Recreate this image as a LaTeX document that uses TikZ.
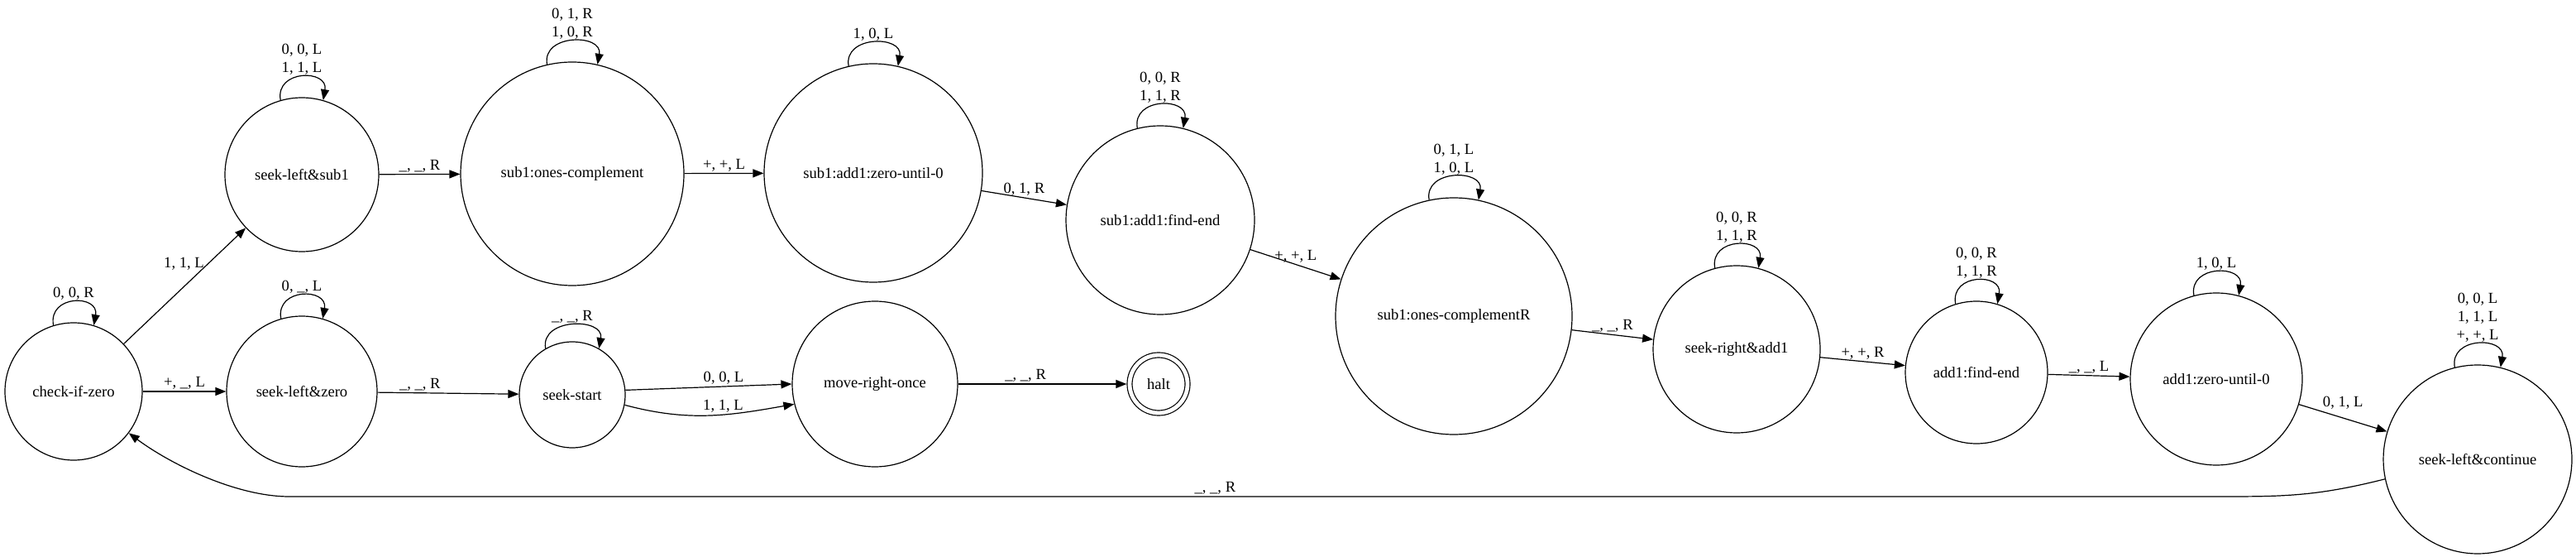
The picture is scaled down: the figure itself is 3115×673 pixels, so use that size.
\documentclass[tikz,border=0pt]{standalone}
\usepackage{fontspec}
\setmainfont{Liberation Serif}
\usetikzlibrary{arrows.meta}

\begin{document}
\begin{tikzpicture}[x=0.5pt, y=-0.5pt, line width=0.6pt,
    every node/.style={font=\fontsize{9.3}{11}\selectfont},
    state/.style={circle, draw, inner sep=0pt, minimum size=#1},
    arr/.style={-{Triangle[length=6.5pt, width=5pt]}},
    lbl/.style={above, inner sep=1pt, align=center},
    selfloop/.style={out=100, in=80, distance=19pt}]
    \useasboundingbox (0,0) rectangle (3115,673);

    % states
    \node[state=83pt] (ciz) at (89,473) {check-if-zero};
    \node[state=93pt] (sls) at (365,211) {seek-left\&sub1};
    \node[state=91pt] (slz) at (365,473) {seek-left\&zero};
    \node[state=135pt] (soc) at (692,210) {sub1:ones-complement};
    \node[state=132pt] (szu) at (1056,209) {sub1:add1:zero-until-0};
    \node[state=114pt] (sfe) at (1403,266) {sub1:add1:find-end};
    \node[state=143pt] (socr) at (1758,382) {sub1:ones-complementR};
    \node[state=101pt] (sra) at (2100,422) {seek-right\&add1};
    \node[state=86pt] (afe) at (2390,450) {add1:find-end};
    \node[state=104pt] (azu) at (2680,458) {add1:zero-until-0};
    \node[state=114pt] (slc) at (2996,555) {seek-left\&continue};
    \node[state=64pt] (ss) at (692,477) {seek-start};
    \node[state=100pt] (mro) at (1058,464) {move-right-once};
    \node[circle, draw, double, double distance=2.4pt, minimum size=35pt,
          inner sep=0pt, outer sep=1.8pt] (halt) at (1401,464) {halt};

    % loops
    \draw[arr] (ciz.107) to[selfloop] node[lbl] {0, 0, R} (ciz.73);
    \draw[arr] (sls.106) to[selfloop] node[lbl] {0, 0, L\\1, 1, L} (sls.74);
    \draw[arr] (slz.106) to[selfloop] node[lbl] {0, \_, L} (slz.74);
    \draw[arr] (soc.103) to[selfloop] node[lbl] {0, 1, R\\1, 0, R} (soc.77);
    \draw[arr] (szu.103) to[selfloop] node[lbl] {1, 0, L} (szu.77);
    \draw[arr] (sfe.104) to[selfloop] node[lbl] {0, 0, R\\1, 1, R} (sfe.76);
    \draw[arr] (socr.102) to[selfloop] node[lbl] {0, 1, L\\1, 0, L} (socr.78);
    \draw[arr] (sra.105) to[selfloop] node[lbl] {0, 0, R\\1, 1, R} (sra.75);
    \draw[arr] (afe.107) to[selfloop] node[lbl] {0, 0, R\\1, 1, R} (afe.73);
    \draw[arr] (azu.105) to[selfloop] node[lbl] {1, 0, L} (azu.75);
    \draw[arr] (slc.104) to[selfloop] node[lbl] {0, 0, L\\1, 1, L\\+, +, L} (slc.76);
    \draw[arr] (ss.120) to[selfloop] node[lbl] {\_, \_, R} (ss.60);

    % transitions
    \draw[arr] (ciz) -- node[left, pos=0.69, inner sep=2pt] {1, 1, L} (sls);
    \draw[arr] (ciz) -- node[lbl] {+, \_, L} (slz);
    \draw[arr] (slz) -- node[lbl, pos=0.3] {\_, \_, R} (ss);
    \draw[arr] (ss.5) -- node[lbl, pos=0.59] {0, 0, L} (mro.180);
    \draw[arr] (ss.-11) to[out=-15, in=190] node[lbl, pos=0.59] {1, 1, L} (mro.194);
    \draw[arr] (mro) -- node[lbl, pos=0.4] {\_, \_, R} (halt);
    \draw[arr] (sls) -- node[lbl] {\_, \_, R} (soc);
    \draw[arr] (soc) -- node[lbl] {+, +, L} (szu);
    \draw[arr] (szu) -- node[lbl] {0, 1, R} (sfe);
    \draw[arr] (sfe) -- node[lbl] {+, +, L} (socr);
    \draw[arr] (socr) -- node[lbl] {\_, \_, R} (sra);
    \draw[arr] (sra) -- node[lbl] {+, +, R} (afe);
    \draw[arr] (afe) -- node[lbl] {\_, \_, L} (azu);
    \draw[arr] (azu) -- node[lbl, above=4pt] {0, 1, L} (slc);
    \draw[arr] (slc.192) .. controls (2800,600) and (2760,600) .. (2682,600)
        -- node[lbl, pos=0.52] {\_, \_, R} (350,600)
        .. controls (285,600) and (205,560) .. (ciz.-37);
\end{tikzpicture}
\end{document}
